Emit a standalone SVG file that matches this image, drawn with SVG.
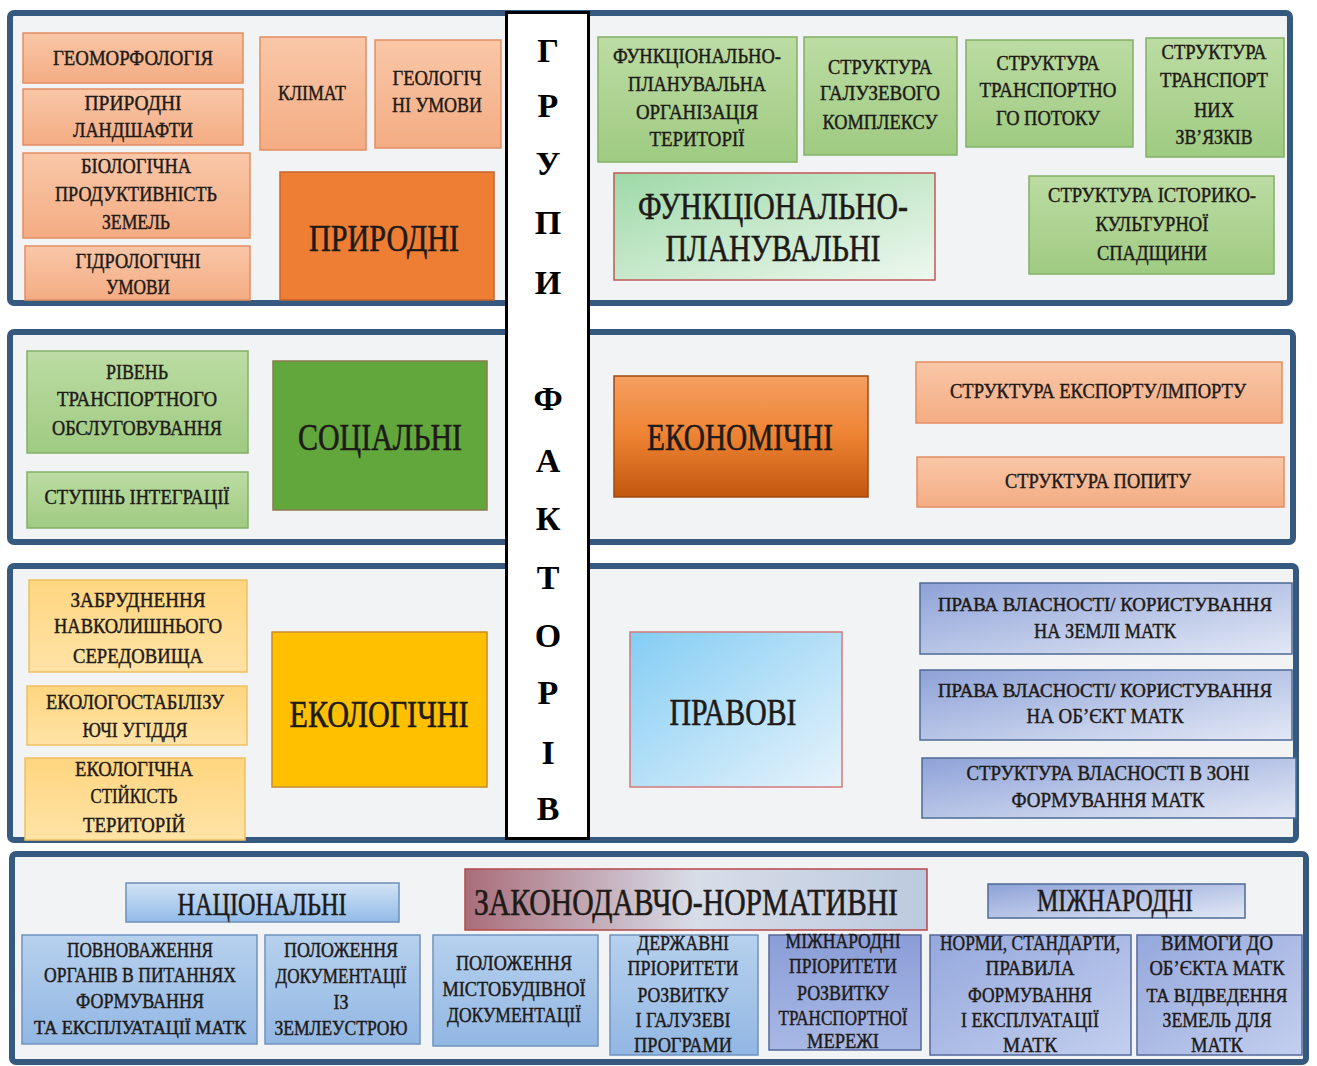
<svg xmlns="http://www.w3.org/2000/svg" width="1317" height="1066" viewBox="0 0 1317 1066">
<style>
.panel{fill:#f2f3f5;stroke:#36597f;stroke-width:6}
text{font-family:"Liberation Serif","Times New Roman",serif}
.t{font-size:22px;fill:#1e1a18;stroke:#1e1a18;stroke-width:0.45;text-anchor:middle}
.big{font-size:38px;stroke-width:0.6}
.mid{font-size:31px;stroke-width:0.5}
.g{font-size:34px;font-weight:bold;fill:#000;text-anchor:middle}
.sal{fill:url(#gSal);stroke:#e38e62;stroke-width:1.5}
.grn{fill:url(#gGrn);stroke:#82b066;stroke-width:1.5}
.yel{fill:url(#gYel);stroke:#f0c060;stroke-width:1.5}
.lav{fill:url(#gLav);stroke:#4e6b98;stroke-width:1.5}
.blu{fill:url(#gBlu);stroke:#6f93c0;stroke-width:1.5}
</style>
<defs>
<linearGradient id="gSal" x1="0" y1="0" x2="0" y2="1"><stop offset="0" stop-color="#f9c7a8"/><stop offset="1" stop-color="#f4ac83"/></linearGradient>
<linearGradient id="gGrn" x1="0" y1="0" x2="0" y2="1"><stop offset="0" stop-color="#bcdca3"/><stop offset="1" stop-color="#9fcb82"/></linearGradient>
<linearGradient id="gFP" x1="0" y1="0" x2="1" y2="1"><stop offset="0" stop-color="#9fd9a8"/><stop offset="1" stop-color="#eef8ef"/></linearGradient>
<linearGradient id="gEcon" x1="0" y1="0" x2="0" y2="1"><stop offset="0" stop-color="#f5a060"/><stop offset="0.5" stop-color="#ee8232"/><stop offset="1" stop-color="#c2560e"/></linearGradient>
<linearGradient id="gYel" x1="0" y1="0" x2="0" y2="1"><stop offset="0" stop-color="#ffd680"/><stop offset="1" stop-color="#ffe3a6"/></linearGradient>
<linearGradient id="gPrav" x1="0" y1="0" x2="1" y2="1"><stop offset="0" stop-color="#84cdf4"/><stop offset="1" stop-color="#e6f3fb"/></linearGradient>
<linearGradient id="gLav" x1="0" y1="0" x2="1" y2="1"><stop offset="0" stop-color="#8ea2d8"/><stop offset="1" stop-color="#e2e8f5"/></linearGradient>
<linearGradient id="gBlu" x1="0" y1="0" x2="0" y2="1"><stop offset="0" stop-color="#b7d1ee"/><stop offset="1" stop-color="#92b7e3"/></linearGradient>
<linearGradient id="gNat" x1="0" y1="0" x2="0" y2="1"><stop offset="0" stop-color="#d2e3f5"/><stop offset="1" stop-color="#92bbe8"/></linearGradient>
<linearGradient id="gZak" x1="0" y1="0" x2="1" y2="0"><stop offset="0" stop-color="#a86e7a"/><stop offset="0.5" stop-color="#d8dde8"/><stop offset="1" stop-color="#bccadf"/></linearGradient>
<linearGradient id="gMP" x1="0" y1="0" x2="0" y2="1"><stop offset="0" stop-color="#8a9dd7"/><stop offset="1" stop-color="#a8b8e5"/></linearGradient>
<linearGradient id="gNorm" x1="0" y1="0" x2="1" y2="1"><stop offset="0" stop-color="#95a8dd"/><stop offset="1" stop-color="#c3cfee"/></linearGradient>
</defs>
<rect width="1317" height="1066" fill="#ffffff"/>

<g id="panels">
<rect class="panel" x="10" y="13" width="1280" height="290" rx="4"/>
<rect class="panel" x="10" y="332" width="1283" height="210" rx="4"/>
<rect class="panel" x="10" y="566" width="1286" height="274" rx="4"/>
<rect class="panel" x="12" y="854" width="1294" height="208" rx="4"/>
</g>

<g id="connectors"></g>

<!-- Panel 1: natural -->
<g id="n-geomorf"><rect class="sal" x="23" y="33" width="220" height="50"/>
<text class="t" x="133" y="65" textLength="160" lengthAdjust="spacingAndGlyphs">ГЕОМОРФОЛОГІЯ</text></g>
<g id="n-landsh"><rect class="sal" x="23" y="89" width="220" height="56"/>
<text class="t" x="133" y="110" textLength="97" lengthAdjust="spacingAndGlyphs">ПРИРОДНІ</text>
<text class="t" x="133" y="137" textLength="120" lengthAdjust="spacingAndGlyphs">ЛАНДШАФТИ</text></g>
<g id="n-bio"><rect class="sal" x="23" y="153" width="227" height="85"/>
<text class="t" x="136" y="173" textLength="110" lengthAdjust="spacingAndGlyphs">БІОЛОГІЧНА</text>
<text class="t" x="136" y="201" textLength="162" lengthAdjust="spacingAndGlyphs">ПРОДУКТИВНІСТЬ</text>
<text class="t" x="136" y="229" textLength="68" lengthAdjust="spacingAndGlyphs">ЗЕМЕЛЬ</text></g>
<g id="n-hydro"><rect class="sal" x="25" y="246" width="225" height="54"/>
<text class="t" x="138" y="268" textLength="125" lengthAdjust="spacingAndGlyphs">ГІДРОЛОГІЧНІ</text>
<text class="t" x="138" y="294" textLength="64" lengthAdjust="spacingAndGlyphs">УМОВИ</text></g>
<g id="n-klimat"><rect class="sal" x="260" y="37" width="106" height="113"/>
<text class="t" x="312" y="100" textLength="68" lengthAdjust="spacingAndGlyphs">КЛІМАТ</text></g>
<g id="n-geol"><rect class="sal" x="375" y="40" width="126" height="108"/>
<text class="t" x="437" y="85" textLength="89" lengthAdjust="spacingAndGlyphs">ГЕОЛОГІЧ</text>
<text class="t" x="437" y="112" textLength="90" lengthAdjust="spacingAndGlyphs">НІ УМОВИ</text></g>
<g id="n-pryrodni"><rect x="280" y="172" width="214" height="128" fill="#ef7e35" stroke="#c9642a" stroke-width="1.5"/>
<text class="t big" x="384" y="251" textLength="150" lengthAdjust="spacingAndGlyphs">ПРИРОДНІ</text></g>

<!-- Panel 1: functional-planning -->
<g id="n-fpo"><rect class="grn" x="598" y="37" width="199" height="125"/>
<text class="t" x="697" y="63" textLength="168" lengthAdjust="spacingAndGlyphs">ФУНКЦІОНАЛЬНО-</text>
<text class="t" x="697" y="91" textLength="138" lengthAdjust="spacingAndGlyphs">ПЛАНУВАЛЬНА</text>
<text class="t" x="697" y="119" textLength="122" lengthAdjust="spacingAndGlyphs">ОРГАНІЗАЦІЯ</text>
<text class="t" x="697" y="146" textLength="95" lengthAdjust="spacingAndGlyphs">ТЕРИТОРІЇ</text></g>
<g id="n-galuz"><rect class="grn" x="804" y="37" width="153" height="118"/>
<text class="t" x="880" y="74" textLength="104" lengthAdjust="spacingAndGlyphs">СТРУКТУРА</text>
<text class="t" x="880" y="100" textLength="120" lengthAdjust="spacingAndGlyphs">ГАЛУЗЕВОГО</text>
<text class="t" x="880" y="129" textLength="115" lengthAdjust="spacingAndGlyphs">КОМПЛЕКСУ</text></g>
<g id="n-potik"><rect class="grn" x="966" y="40" width="167" height="107"/>
<text class="t" x="1048" y="70" textLength="103" lengthAdjust="spacingAndGlyphs">СТРУКТУРА</text>
<text class="t" x="1048" y="97" textLength="137" lengthAdjust="spacingAndGlyphs">ТРАНСПОРТНО</text>
<text class="t" x="1048" y="125" textLength="104" lengthAdjust="spacingAndGlyphs">ГО ПОТОКУ</text></g>
<g id="n-zviazky"><rect class="grn" x="1146" y="38" width="138" height="119"/>
<text class="t" x="1214" y="59" textLength="105" lengthAdjust="spacingAndGlyphs">СТРУКТУРА</text>
<text class="t" x="1214" y="87" textLength="108" lengthAdjust="spacingAndGlyphs">ТРАНСПОРТ</text>
<text class="t" x="1214" y="117" textLength="40" lengthAdjust="spacingAndGlyphs">НИХ</text>
<text class="t" x="1214" y="144" textLength="77" lengthAdjust="spacingAndGlyphs">ЗВ’ЯЗКІВ</text></g>
<g id="n-fp"><rect x="614" y="173" width="321" height="107" fill="url(#gFP)" stroke="#c05a55" stroke-width="1.5"/>
<text class="t big" x="773" y="219" textLength="270" lengthAdjust="spacingAndGlyphs">ФУНКЦІОНАЛЬНО-</text>
<text class="t big" x="773" y="261" textLength="215" lengthAdjust="spacingAndGlyphs">ПЛАНУВАЛЬНІ</text></g>
<g id="n-spadsh"><rect class="grn" x="1029" y="176" width="245" height="98"/>
<text class="t" x="1152" y="202" textLength="208" lengthAdjust="spacingAndGlyphs">СТРУКТУРА ІСТОРИКО-</text>
<text class="t" x="1152" y="231" textLength="113" lengthAdjust="spacingAndGlyphs">КУЛЬТУРНОЇ</text>
<text class="t" x="1152" y="260" textLength="110" lengthAdjust="spacingAndGlyphs">СПАДЩИНИ</text></g>

<!-- Panel 2 -->
<g id="n-riven"><rect class="grn" x="27" y="351" width="221" height="102"/>
<text class="t" x="137" y="379" textLength="62" lengthAdjust="spacingAndGlyphs">РІВЕНЬ</text>
<text class="t" x="137" y="406" textLength="160" lengthAdjust="spacingAndGlyphs">ТРАНСПОРТНОГО</text>
<text class="t" x="137" y="435" textLength="170" lengthAdjust="spacingAndGlyphs">ОБСЛУГОВУВАННЯ</text></g>
<g id="n-integr"><rect class="grn" x="27" y="472" width="221" height="56"/>
<text class="t" x="137" y="504" textLength="185" lengthAdjust="spacingAndGlyphs">СТУПІНЬ ІНТЕГРАЦІЇ</text></g>
<g id="n-social"><rect x="273" y="361" width="214" height="149" fill="#62a73c" stroke="#8a7a4c" stroke-width="1.5"/>
<text class="t big" x="380" y="450" textLength="164" lengthAdjust="spacingAndGlyphs">СОЦІАЛЬНІ</text></g>
<g id="n-econ"><rect x="614" y="376" width="254" height="121" fill="url(#gEcon)" stroke="#a04a10" stroke-width="1.5"/>
<text class="t big" x="740" y="450" textLength="186" lengthAdjust="spacingAndGlyphs">ЕКОНОМІЧНІ</text></g>
<g id="n-export"><rect class="sal" x="916" y="362" width="366" height="61"/>
<text class="t" x="1098" y="398" textLength="296" lengthAdjust="spacingAndGlyphs">СТРУКТУРА ЕКСПОРТУ/ІМПОРТУ</text></g>
<g id="n-popyt"><rect class="sal" x="917" y="457" width="367" height="50"/>
<text class="t" x="1098" y="488" textLength="186" lengthAdjust="spacingAndGlyphs">СТРУКТУРА ПОПИТУ</text></g>

<!-- Panel 3 -->
<g id="n-zabrud"><rect class="yel" x="29" y="580" width="218" height="92"/>
<text class="t" x="138" y="607" textLength="135" lengthAdjust="spacingAndGlyphs">ЗАБРУДНЕННЯ</text>
<text class="t" x="138" y="633" textLength="168" lengthAdjust="spacingAndGlyphs">НАВКОЛИШНЬОГО</text>
<text class="t" x="138" y="663" textLength="130" lengthAdjust="spacingAndGlyphs">СЕРЕДОВИЩА</text></g>
<g id="n-ekostab"><rect class="yel" x="27" y="686" width="220" height="59"/>
<text class="t" x="135" y="709" textLength="178" lengthAdjust="spacingAndGlyphs">ЕКОЛОГОСТАБІЛІЗУ</text>
<text class="t" x="135" y="737" textLength="105" lengthAdjust="spacingAndGlyphs">ЮЧІ УГІДДЯ</text></g>
<g id="n-ekostiyk"><rect class="yel" x="25" y="758" width="220" height="82"/>
<text class="t" x="134" y="776" textLength="118" lengthAdjust="spacingAndGlyphs">ЕКОЛОГІЧНА</text>
<text class="t" x="134" y="803" textLength="87" lengthAdjust="spacingAndGlyphs">СТІЙКІСТЬ</text>
<text class="t" x="134" y="832" textLength="102" lengthAdjust="spacingAndGlyphs">ТЕРИТОРІЙ</text></g>
<g id="n-ekol"><rect x="272" y="632" width="215" height="155" fill="#ffc000" stroke="#c98c2a" stroke-width="1.5"/>
<text class="t big" x="379" y="727" textLength="179" lengthAdjust="spacingAndGlyphs">ЕКОЛОГІЧНІ</text></g>
<g id="n-pravovi"><rect x="630" y="632" width="212" height="155" fill="url(#gPrav)" stroke="#d47a7a" stroke-width="1.5"/>
<text class="t big" x="733" y="725" textLength="127" lengthAdjust="spacingAndGlyphs">ПРАВОВІ</text></g>
<g id="n-prava-zem"><rect class="lav" x="920" y="583" width="372" height="71"/>
<text class="t" x="1105" y="611" style="font-size:18px" textLength="334" lengthAdjust="spacingAndGlyphs">ПРАВА ВЛАСНОСТІ/ КОРИСТУВАННЯ</text>
<text class="t" x="1105" y="638" textLength="142" lengthAdjust="spacingAndGlyphs">НА ЗЕМЛІ МАТК</text></g>
<g id="n-prava-obj"><rect class="lav" x="920" y="670" width="372" height="70"/>
<text class="t" x="1105" y="697" style="font-size:18px" textLength="334" lengthAdjust="spacingAndGlyphs">ПРАВА ВЛАСНОСТІ/ КОРИСТУВАННЯ</text>
<text class="t" x="1105" y="723" textLength="157" lengthAdjust="spacingAndGlyphs">НА ОБ’ЄКТ  МАТК</text></g>
<g id="n-vlasn"><rect class="lav" x="922" y="758" width="374" height="60"/>
<text class="t" x="1108" y="780" textLength="283" lengthAdjust="spacingAndGlyphs">СТРУКТУРА  ВЛАСНОСТІ В ЗОНІ</text>
<text class="t" x="1108" y="807" textLength="193" lengthAdjust="spacingAndGlyphs">ФОРМУВАННЯ МАТК</text></g>

<!-- Panel 4 -->
<g id="n-nats"><rect x="126" y="883" width="273" height="39" fill="url(#gNat)" stroke="#6d8fb7" stroke-width="1.5"/>
<text class="t mid" x="262" y="915" textLength="169" lengthAdjust="spacingAndGlyphs">НАЦІОНАЛЬНІ</text></g>
<g id="n-zakon"><rect x="465" y="869" width="462" height="61" fill="url(#gZak)" stroke="#b54848" stroke-width="1.5"/>
<text class="t big" x="686" y="915" textLength="424" lengthAdjust="spacingAndGlyphs">ЗАКОНОДАВЧО-НОРМАТИВНІ</text></g>
<g id="n-mizh"><rect x="988" y="884" width="257" height="34" fill="url(#gLav)" stroke="#4e6b98" stroke-width="1.5"/>
<text class="t mid" x="1115" y="911" textLength="156" lengthAdjust="spacingAndGlyphs">МІЖНАРОДНІ</text></g>

<g id="n-povnov"><rect class="blu" x="22" y="935" width="235" height="109"/>
<text class="t" x="140" y="957" textLength="146" lengthAdjust="spacingAndGlyphs">ПОВНОВАЖЕННЯ</text>
<text class="t" x="140" y="982" textLength="192" lengthAdjust="spacingAndGlyphs">ОРГАНІВ В ПИТАННЯХ</text>
<text class="t" x="140" y="1008" textLength="128" lengthAdjust="spacingAndGlyphs">ФОРМУВАННЯ</text>
<text class="t" x="140" y="1034" style="font-size:18px" textLength="212" lengthAdjust="spacingAndGlyphs">ТА ЕКСПЛУАТАЦІЇ МАТК</text></g>
<g id="n-zemleustr"><rect class="blu" x="265" y="935" width="155" height="109"/>
<text class="t" x="341" y="957" textLength="114" lengthAdjust="spacingAndGlyphs">ПОЛОЖЕННЯ</text>
<text class="t" x="341" y="983" textLength="131" lengthAdjust="spacingAndGlyphs">ДОКУМЕНТАЦІЇ</text>
<text class="t" x="341" y="1009" textLength="15" lengthAdjust="spacingAndGlyphs">ІЗ</text>
<text class="t" x="341" y="1035" style="font-size:20px" textLength="133" lengthAdjust="spacingAndGlyphs">ЗЕМЛЕУСТРОЮ</text></g>
<g id="n-mistobud"><rect class="blu" x="433" y="935" width="165" height="111"/>
<text class="t" x="514" y="970" textLength="116" lengthAdjust="spacingAndGlyphs">ПОЛОЖЕННЯ</text>
<text class="t" x="514" y="996" textLength="143" lengthAdjust="spacingAndGlyphs">МІСТОБУДІВНОЇ</text>
<text class="t" x="514" y="1022" textLength="134" lengthAdjust="spacingAndGlyphs">ДОКУМЕНТАЦІЇ</text></g>
<g id="n-derzh"><rect class="blu" x="610" y="935" width="148" height="120"/>
<text class="t" x="683" y="950" textLength="92" lengthAdjust="spacingAndGlyphs">ДЕРЖАВНІ</text>
<text class="t" x="683" y="975" textLength="111" lengthAdjust="spacingAndGlyphs">ПРІОРИТЕТИ</text>
<text class="t" x="683" y="1002" textLength="91" lengthAdjust="spacingAndGlyphs">РОЗВИТКУ</text>
<text class="t" x="683" y="1027" textLength="95" lengthAdjust="spacingAndGlyphs">І ГАЛУЗЕВІ</text>
<text class="t" x="683" y="1052" textLength="98" lengthAdjust="spacingAndGlyphs">ПРОГРАМИ</text></g>
<g id="n-mizhprior"><rect x="769" y="935" width="152" height="115" fill="url(#gMP)" stroke="#55689c" stroke-width="1.5"/>
<text class="t" x="843" y="948" textLength="115" lengthAdjust="spacingAndGlyphs">МІЖНАРОДНІ</text>
<text class="t" x="843" y="973" textLength="108" lengthAdjust="spacingAndGlyphs">ПРІОРИТЕТИ</text>
<text class="t" x="843" y="1000" textLength="92" lengthAdjust="spacingAndGlyphs">РОЗВИТКУ</text>
<text class="t" x="843" y="1025" textLength="129" lengthAdjust="spacingAndGlyphs">ТРАНСПОРТНОЇ</text>
<text class="t" x="843" y="1048" textLength="72" lengthAdjust="spacingAndGlyphs">МЕРЕЖІ</text></g>
<g id="n-normy"><rect x="930" y="935" width="201" height="120" fill="url(#gNorm)" stroke="#55689c" stroke-width="1.5"/>
<text class="t" x="1030" y="950" textLength="180" lengthAdjust="spacingAndGlyphs">НОРМИ, СТАНДАРТИ,</text>
<text class="t" x="1030" y="975" textLength="89" lengthAdjust="spacingAndGlyphs">ПРАВИЛА</text>
<text class="t" x="1030" y="1002" textLength="124" lengthAdjust="spacingAndGlyphs">ФОРМУВАННЯ</text>
<text class="t" x="1030" y="1027" textLength="138" lengthAdjust="spacingAndGlyphs">І ЕКСПЛУАТАЦІЇ</text>
<text class="t" x="1030" y="1052" textLength="54" lengthAdjust="spacingAndGlyphs">МАТК</text></g>
<g id="n-vymogy"><rect x="1137" y="935" width="165" height="120" fill="url(#gNorm)" stroke="#55689c" stroke-width="1.5"/>
<text class="t" x="1217" y="950" textLength="112" lengthAdjust="spacingAndGlyphs">ВИМОГИ ДО</text>
<text class="t" x="1217" y="975" textLength="135" lengthAdjust="spacingAndGlyphs">ОБ’ЄКТА МАТК</text>
<text class="t" x="1217" y="1002" style="font-size:19px" textLength="141" lengthAdjust="spacingAndGlyphs">ТА ВІДВЕДЕННЯ</text>
<text class="t" x="1217" y="1027" textLength="109" lengthAdjust="spacingAndGlyphs">ЗЕМЕЛЬ ДЛЯ</text>
<text class="t" x="1217" y="1052" textLength="52" lengthAdjust="spacingAndGlyphs">МАТК</text></g>

<!-- Vertical title -->
<g id="n-title"><rect x="506.5" y="12.5" width="82" height="826" fill="#ffffff" stroke="#000" stroke-width="3"/>
<text class="g" x="548" y="62">Г</text>
<text class="g" x="548" y="117">Р</text>
<text class="g" x="548" y="175">У</text>
<text class="g" x="548" y="234">П</text>
<text class="g" x="548" y="294">И</text>
<text class="g" x="548" y="410">Ф</text>
<text class="g" x="548" y="472">А</text>
<text class="g" x="548" y="530">К</text>
<text class="g" x="548" y="589">Т</text>
<text class="g" x="548" y="647">О</text>
<text class="g" x="548" y="704">Р</text>
<text class="g" x="548" y="764">І</text>
<text class="g" x="548" y="820">В</text></g>
</svg>
